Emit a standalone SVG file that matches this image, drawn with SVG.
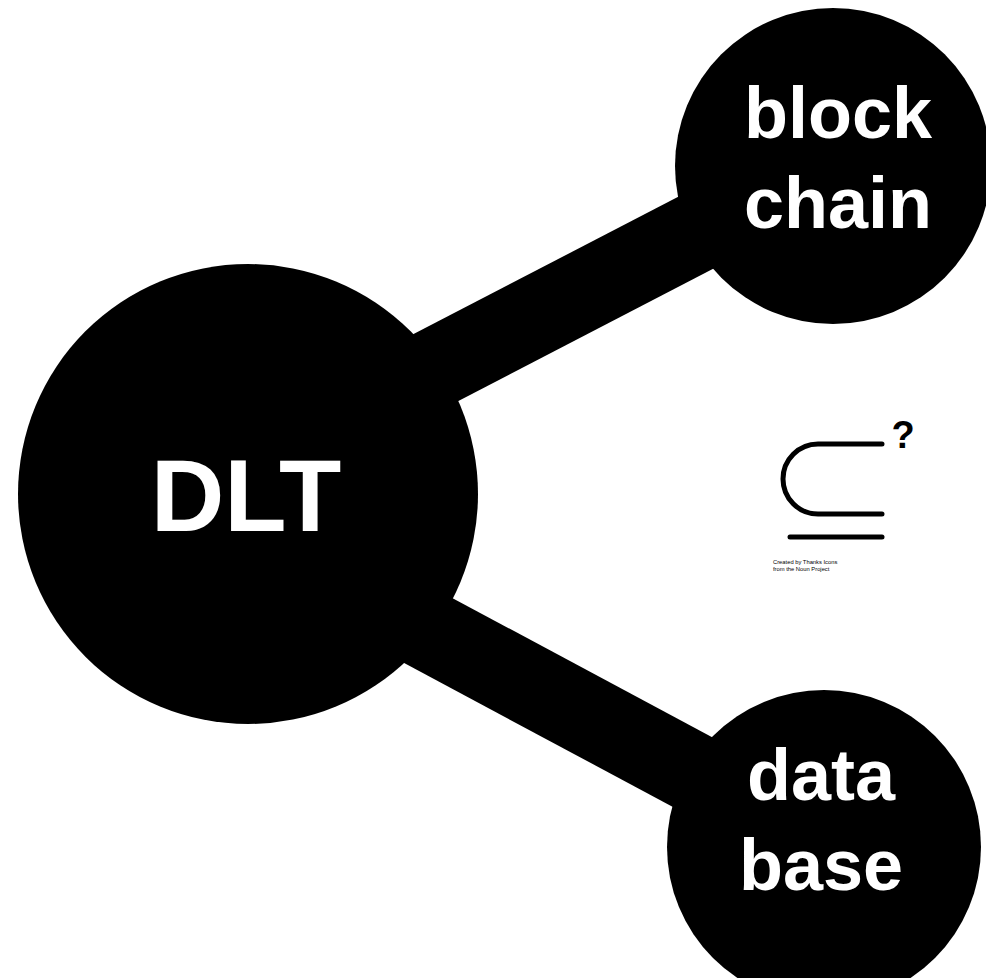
<svg xmlns="http://www.w3.org/2000/svg" width="986" height="978" viewBox="0 0 986 978">
  <style>
    .node { fill: #000; }
    .link { stroke: #000; stroke-width: 80; stroke-linecap: butt; fill: none; }
    .label { fill: #fff; font-family: "Liberation Sans", Arial, sans-serif; font-weight: bold; text-anchor: middle; }
    .glyph { stroke: #000; stroke-width: 5; fill: none; stroke-linecap: round; }
    .credit { fill: #000; font-family: "Liberation Sans", Arial, sans-serif; font-size: 5.8px; }
  </style>
  <rect width="986" height="978" fill="#fff"/>

  <g id="connectors">
    <line class="link" x1="250" y1="464" x2="780" y2="189"/>
    <line class="link" x1="250" y1="535" x2="780" y2="819"/>
  </g>

  <g id="node-dlt">
    <circle class="node" cx="248" cy="494" r="230"/>
    <text class="label" x="246" y="531" font-size="102">DLT</text>
  </g>

  <g id="node-blockchain">
    <circle class="node" cx="833" cy="166" r="158"/>
    <text class="label" x="838" y="138" font-size="72">block</text>
    <text class="label" x="838" y="228" font-size="72">chain</text>
  </g>

  <g id="node-database">
    <circle class="node" cx="824" cy="847" r="157"/>
    <text class="label" x="821" y="800" font-size="72">data</text>
    <text class="label" x="821" y="890" font-size="72">base</text>
  </g>

  <g id="subset-icon">
    <path class="glyph" d="M882,444 H818 A35,35 0 0 0 818,514 H882"/>
    <line class="glyph" x1="790" y1="537" x2="882" y2="537"/>
    <text x="903" y="448" font-family="Liberation Sans, Arial, sans-serif" font-weight="bold" font-size="38" text-anchor="middle" fill="#000">?</text>
    <text class="credit" x="773" y="564">Created by Thanks Icons</text>
    <text class="credit" x="773" y="571">from the Noun Project</text>
  </g>
</svg>
